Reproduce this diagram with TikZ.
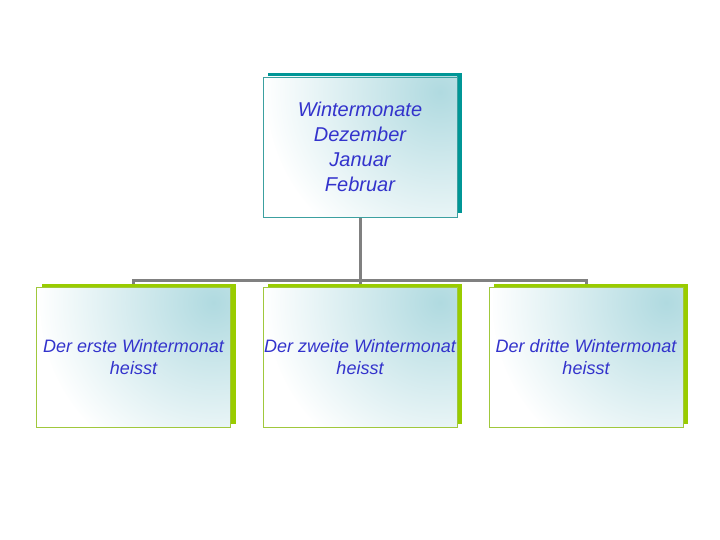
\documentclass[tikz,border=0pt]{standalone}
\usepackage{fontspec}
\setmainfont{Liberation Sans}
\usetikzlibrary{shadows,backgrounds}
\definecolor{txtblue}{RGB}{51,51,204}
\definecolor{tealsh}{RGB}{0,150,150}
\definecolor{tealbd}{RGB}{60,160,160}
\definecolor{greensh}{RGB}{153,204,0}
\definecolor{greenbd}{RGB}{160,200,60}
\definecolor{shadeteal}{RGB}{176,218,224}
\definecolor{connc}{RGB}{128,128,128}
\tikzset{
  boxbase/.style={rectangle, minimum width=194pt, minimum height=140pt, inner sep=0pt,
    fill=white, line width=0.8pt, align=center, text=txtblue,
    path picture={\shade[inner color=shadeteal, outer color=white]
      ([xshift=-15pt,yshift=-15pt]path picture bounding box.north east) circle (175pt);}},
  topbox/.style={boxbase, draw=tealbd,
    copy shadow={shadow xshift=5pt, shadow yshift=4pt, fill=tealsh, draw=none},
    font=\fontsize{20}{25}\selectfont\itshape},
  subbox/.style={boxbase, draw=greenbd,
    copy shadow={shadow xshift=5pt, shadow yshift=4pt, fill=greensh, draw=none},
    font=\fontsize{18}{22}\selectfont\itshape},
  conn/.style={draw=connc, line width=3pt}
}
\begin{document}
\begin{tikzpicture}[x=1pt,y=-1pt]
\useasboundingbox (0,0) rectangle (720,540);
\node[topbox] (top) at (360,147) {Wintermonate\\Dezember\\Januar\\Februar};
\node[subbox] (b1) at (133.5,357.5) {Der erste Wintermonat\\heisst};
\node[subbox] (b2) at (360,357.5) {Der zweite Wintermonat\\heisst};
\node[subbox] (b3) at (586,357.5) {Der dritte Wintermonat\\heisst};
\begin{scope}[on background layer]
\draw[conn] (top.south) -- ++(0,63) coordinate (j);
\draw[conn] (b1.north) |- (j) -| (b3.north);
\draw[conn] (b2.north) -- (j);
\end{scope}
\end{tikzpicture}
\end{document}
